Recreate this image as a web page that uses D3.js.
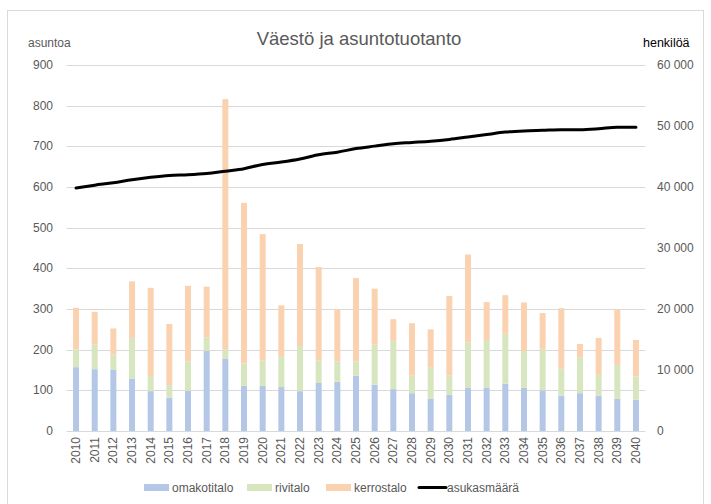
<!DOCTYPE html>
<html><head><meta charset="utf-8">
<script src="https://cdn.jsdelivr.net/npm/d3@7"></script>
<style>body{margin:0;background:#fff}svg{display:block}text{font-family:"Liberation Sans","Open Sans",sans-serif}</style>
</head><body>
<script>
const years = d3.range(2010, 2041).map(String);
const omakotitalo = [157,152,150,128,98,82,99,197,177,111,111,108,98,118,121,136,114,103,93,79,89,107,107,116,106,100,87,93,87,79,77];
const rivitalo   = [44,60,39,101,37,31,72,33,24,55,62,76,111,55,50,35,98,118,43,78,47,111,117,123,91,102,66,88,51,83,57];
const kerrostalo = [102,81,63,139,217,150,186,125,615,395,311,125,251,230,129,205,138,54,129,93,196,216,93,95,119,88,149,33,91,137,90];
const asukasmaara = [39850,40300,40700,41200,41600,41900,42000,42200,42600,43000,43700,44100,44600,45300,45700,46300,46700,47100,47300,47500,47800,48200,48600,49000,49200,49300,49400,49400,49550,49800,49800];
const leftTicks = [0,100,200,300,400,500,600,700,800,900];
const rightTicks = [0,10000,20000,30000,40000,50000,60000];
const seriesNames = ["omakotitalo","rivitalo","kerrostalo"];
const seriesColors = ["#B4C7E7","#D8E6C0","#FBD2AF"];

const W = 711, H = 504;
const svg = d3.select("body").append("svg").attr("width", W).attr("height", H);
svg.append("rect").attr("x",7.5).attr("y",10.5).attr("width",696).attr("height",500).attr("fill","#fff").attr("stroke","#d9d9d9");

const x = d3.scaleBand().domain(years).range([66.7, 645.3]).paddingInner(0.66).paddingOuter(0.33);
const yL = d3.scaleLinear().domain([0,900]).range([431,65]);
const yR = d3.scaleLinear().domain([0,60000]).range([431,65]);

// gridlines
svg.append("g").selectAll("line").data(leftTicks).join("line")
  .attr("x1",66.7).attr("x2",645.3).attr("y1",d=>Math.round(yL(d))+0.5).attr("y2",d=>Math.round(yL(d))+0.5)
  .attr("stroke","#d9d9d9").attr("stroke-width",1);

// stacked bars
const rows = years.map((yr,i)=>({year:yr, omakotitalo:omakotitalo[i], rivitalo:rivitalo[i], kerrostalo:kerrostalo[i]}));
const stack = d3.stack().keys(seriesNames)(rows);
const bw = 6;
svg.append("g").selectAll("g").data(stack).join("g").attr("fill",(d,i)=>seriesColors[i])
  .selectAll("rect").data(d=>d).join("rect")
  .attr("x",d=>x(d.data.year)+x.bandwidth()/2-bw/2).attr("width",bw)
  .attr("y",d=>yL(d[1])).attr("height",d=>yL(d[0])-yL(d[1]));

// line
const line = d3.line().x((d,i)=>x(years[i])+x.bandwidth()/2).y(d=>yR(d)).curve(d3.curveMonotoneX);
svg.append("path").datum(asukasmaara).attr("d",line).attr("fill","none").attr("stroke","#000").attr("stroke-width",3).attr("stroke-linecap","round");

// axis labels
const tickStyle = s => s.attr("font-size",12).attr("fill","#595959");
svg.append("g").selectAll("text").data(leftTicks).join("text")
  .attr("x",53).attr("y",d=>yL(d)+4).attr("text-anchor","end").text(d=>d).call(tickStyle);
const fmt = d => d3.format(",")(d).replace(/,/g," ");
svg.append("g").selectAll("text").data(rightTicks).join("text")
  .attr("x",657).attr("y",d=>yR(d)+4).attr("text-anchor","start").text(fmt).call(tickStyle);

// x labels
svg.append("g").selectAll("text").data(years).join("text")
  .attr("transform",d=>`translate(${x(d)+x.bandwidth()/2+4},437) rotate(-90)`)
  .attr("text-anchor","end").text(d=>d).call(tickStyle);

// titles
svg.append("text").attr("x",359).attr("y",45).attr("text-anchor","middle").attr("font-size",18.5).attr("fill","#595959").text("Väestö ja asuntotuotanto");
svg.append("text").attr("x",28).attr("y",47).attr("font-size",12).attr("fill","#595959").text("asuntoa");
svg.append("text").attr("x",643).attr("y",47).attr("font-size",12.5).attr("fill","#000").text("henkilöä");

// legend
const legend = [
  {name:"omakotitalo", color:seriesColors[0], x:144, type:"rect"},
  {name:"rivitalo", color:seriesColors[1], x:247, type:"rect"},
  {name:"kerrostalo", color:seriesColors[2], x:326, type:"rect"},
  {name:"asukasmäärä", color:"#000", x:419, type:"line"}
];
const lg = svg.append("g").selectAll("g").data(legend).join("g");
lg.filter(d=>d.type==="rect").append("rect").attr("x",d=>d.x).attr("y",484).attr("width",25).attr("height",7).attr("fill",d=>d.color);
lg.filter(d=>d.type==="line").append("line").attr("x1",d=>d.x).attr("x2",d=>d.x+27).attr("y1",487.5).attr("y2",487.5).attr("stroke","#000").attr("stroke-width",3).attr("stroke-linecap","round");
lg.append("text").attr("x",d=>d.x+28).attr("y",492).attr("font-size",12).attr("fill","#595959").text(d=>d.name);
</script>
</body></html>
